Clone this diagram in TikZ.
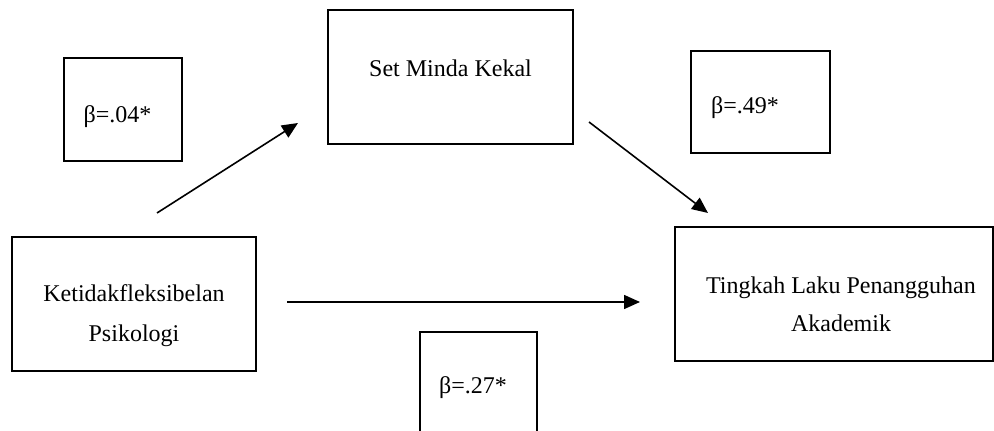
\documentclass[tikz,border=0pt]{standalone}
\usepackage{fontspec}
\setmainfont{Liberation Serif}
\usetikzlibrary{arrows.meta}
\tikzset{
  box/.style={draw, line width=1pt, inner sep=0pt},
  link/.style={line width=0.8pt, -{Triangle[length=8pt,width=7pt]}},
  every label/.style={font=\fontsize{12}{20}\selectfont, align=center}
}

\begin{document}
\begin{tikzpicture}[x=0.5pt,y=-0.5pt]
      \useasboundingbox (0,0) rectangle (994,431);
      % variables
      \node[box,minimum width=122.5pt,minimum height=67pt,
            label={[yshift=4.5pt]center:Set Minda Kekal}] (smk) at (450.5,77) {};
      \node[box,minimum width=122pt,minimum height=67pt,
            label={[yshift=-6pt]center:Ketidakfleksibelan\\Psikologi}] (kp) at (134,304) {};
      \node[box,minimum width=159pt,minimum height=67pt,
            label={[xshift=3.5pt,yshift=-5pt,font=\fontsize{12}{19}\selectfont]center:Tingkah Laku Penangguhan\\Akademik}] (tlpa) at (834,294) {};
      % coefficients
      \node[box,minimum width=59pt,minimum height=51.5pt,
            label={[xshift=-2.75pt,yshift=-3.75pt]center:β=.04*}] (b04) at (123,109.5) {};
      \node[box,minimum width=69.5pt,minimum height=51pt,
            label={[xshift=-7.75pt,yshift=-3pt]center:β=.49*}] (b49) at (760.5,102) {};
      \node[box,minimum width=58.5pt,minimum height=56pt,
            label={[xshift=-2.75pt]center:β=.27*}] (b27) at (478.5,388) {};
      % paths
      \coordinate (kpout) at (157,213);
      \coordinate (smkin) at (298,123);
      \coordinate (smkout) at (589,122);
      \coordinate (tlpain) at (708,213);
      \coordinate (kpdir) at (287,302);
      \coordinate (tlpadir) at (640,302);
      \draw[link] (kpout) -- (smkin);
      \draw[link] (smkout) -- (tlpain);
      \draw[link] (kpdir) -- (tlpadir);
\end{tikzpicture}
\end{document}
